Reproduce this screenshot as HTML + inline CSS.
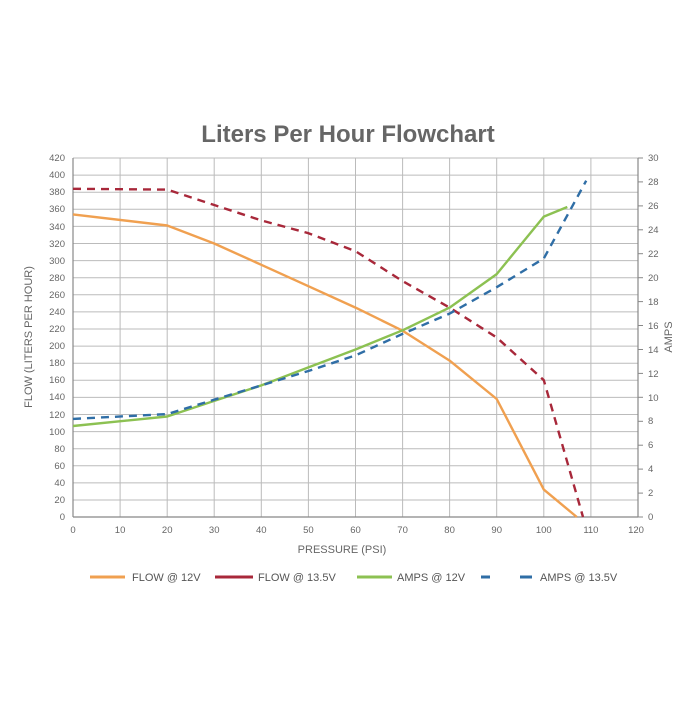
<!DOCTYPE html>
<html><head><meta charset="utf-8"><style>html,body{margin:0;padding:0;background:#fff}</style></head>
<body>
<svg width="700" height="700" xmlns="http://www.w3.org/2000/svg" font-family="Liberation Sans, sans-serif">
<rect width="700" height="700" fill="#fff"/>
<text x="348" y="142" text-anchor="middle" font-size="24" font-weight="bold" fill="#666">Liters Per Hour Flowchart</text>
<g stroke="#bbb" stroke-width="1">
<line x1="73" y1="158" x2="638" y2="158"/><line x1="73" y1="175.1" x2="638" y2="175.1"/><line x1="73" y1="192.2" x2="638" y2="192.2"/><line x1="73" y1="209.3" x2="638" y2="209.3"/><line x1="73" y1="226.4" x2="638" y2="226.4"/><line x1="73" y1="243.5" x2="638" y2="243.5"/><line x1="73" y1="260.6" x2="638" y2="260.6"/><line x1="73" y1="277.7" x2="638" y2="277.7"/><line x1="73" y1="294.8" x2="638" y2="294.8"/><line x1="73" y1="311.9" x2="638" y2="311.9"/><line x1="73" y1="329" x2="638" y2="329"/><line x1="73" y1="346.1" x2="638" y2="346.1"/><line x1="73" y1="363.2" x2="638" y2="363.2"/><line x1="73" y1="380.3" x2="638" y2="380.3"/><line x1="73" y1="397.4" x2="638" y2="397.4"/><line x1="73" y1="414.5" x2="638" y2="414.5"/><line x1="73" y1="431.6" x2="638" y2="431.6"/><line x1="73" y1="448.7" x2="638" y2="448.7"/><line x1="73" y1="465.8" x2="638" y2="465.8"/><line x1="73" y1="482.9" x2="638" y2="482.9"/><line x1="73" y1="500" x2="638" y2="500"/>
<line x1="120.1" y1="158" x2="120.1" y2="517"/><line x1="167.2" y1="158" x2="167.2" y2="517"/><line x1="214.2" y1="158" x2="214.2" y2="517"/><line x1="261.3" y1="158" x2="261.3" y2="517"/><line x1="308.4" y1="158" x2="308.4" y2="517"/><line x1="355.5" y1="158" x2="355.5" y2="517"/><line x1="402.6" y1="158" x2="402.6" y2="517"/><line x1="449.6" y1="158" x2="449.6" y2="517"/><line x1="496.7" y1="158" x2="496.7" y2="517"/><line x1="543.8" y1="158" x2="543.8" y2="517"/><line x1="590.9" y1="158" x2="590.9" y2="517"/>
</g>
<g stroke="#888" stroke-width="1.2">
<line x1="73" y1="158" x2="73" y2="517"/><line x1="638" y1="158" x2="638" y2="517"/><line x1="73" y1="517" x2="638" y2="517"/>
</g>
<g stroke="#888" stroke-width="1">
<line x1="638" y1="158" x2="643" y2="158"/><line x1="638" y1="181.9" x2="643" y2="181.9"/><line x1="638" y1="205.9" x2="643" y2="205.9"/><line x1="638" y1="229.8" x2="643" y2="229.8"/><line x1="638" y1="253.7" x2="643" y2="253.7"/><line x1="638" y1="277.7" x2="643" y2="277.7"/><line x1="638" y1="301.6" x2="643" y2="301.6"/><line x1="638" y1="325.5" x2="643" y2="325.5"/><line x1="638" y1="349.5" x2="643" y2="349.5"/><line x1="638" y1="373.4" x2="643" y2="373.4"/><line x1="638" y1="397.3" x2="643" y2="397.3"/><line x1="638" y1="421.3" x2="643" y2="421.3"/><line x1="638" y1="445.2" x2="643" y2="445.2"/><line x1="638" y1="469.1" x2="643" y2="469.1"/><line x1="638" y1="493.1" x2="643" y2="493.1"/><line x1="638" y1="517" x2="643" y2="517"/>
</g>
<g font-size="9.5" fill="#666" text-anchor="end">
<text x="65" y="161">420</text><text x="65" y="178">400</text><text x="65" y="195">380</text><text x="65" y="212">360</text><text x="65" y="230">340</text><text x="65" y="247">320</text><text x="65" y="264">300</text><text x="65" y="281">280</text><text x="65" y="298">260</text><text x="65" y="315">240</text><text x="65" y="332">220</text><text x="65" y="349">200</text><text x="65" y="366">180</text><text x="65" y="383">160</text><text x="65" y="400">140</text><text x="65" y="418">120</text><text x="65" y="435">100</text><text x="65" y="452">80</text><text x="65" y="469">60</text><text x="65" y="486">40</text><text x="65" y="503">20</text><text x="65" y="520">0</text>
</g>
<g font-size="9.5" fill="#666">
<text x="648" y="161">30</text><text x="648" y="185">28</text><text x="648" y="209">26</text><text x="648" y="233">24</text><text x="648" y="257">22</text><text x="648" y="281">20</text><text x="648" y="305">18</text><text x="648" y="329">16</text><text x="648" y="353">14</text><text x="648" y="377">12</text><text x="648" y="401">10</text><text x="648" y="424">8</text><text x="648" y="448">6</text><text x="648" y="472">4</text><text x="648" y="496">2</text><text x="648" y="520">0</text>
</g>
<g font-size="9.5" fill="#666" text-anchor="middle">
<text x="73" y="533">0</text><text x="120.1" y="533">10</text><text x="167.2" y="533">20</text><text x="214.2" y="533">30</text><text x="261.3" y="533">40</text><text x="308.4" y="533">50</text><text x="355.5" y="533">60</text><text x="402.6" y="533">70</text><text x="449.6" y="533">80</text><text x="496.7" y="533">90</text><text x="543.8" y="533">100</text><text x="590.9" y="533">110</text><text x="636" y="533">120</text>
</g>
<text x="342" y="553" text-anchor="middle" font-size="11" fill="#666">PRESSURE (PSI)</text>
<text transform="translate(32,337) rotate(-90)" text-anchor="middle" font-size="11" fill="#666">FLOW (LITERS PER HOUR)</text>
<text transform="translate(672,337) rotate(-90)" text-anchor="middle" font-size="11" fill="#666">AMPS</text>
<g fill="none" stroke-width="2.4" stroke-linejoin="round">
<polyline stroke="#f0a050" points="73,214.4 167.2,225.5 214.2,243.5 261.3,264.8 308.4,286.2 355.5,307.6 402.6,330.7 449.6,360.6 496.7,399 543.8,489.6 576.8,517"/>
<polyline stroke="#a8283a" stroke-dasharray="8,6" points="73,188.8 167.2,189.6 214.2,205 261.3,220.4 308.4,233.2 355.5,251.2 402.6,281.1 449.6,307.6 496.7,337.5 543.8,380.2 583,517"/>
<polyline stroke="#8cc152" points="73,426 167.2,416.5 214.2,400.9 261.3,385.4 308.4,367.4 355.5,349.5 402.6,330.3 449.6,307.6 496.7,274.1 543.8,216.6 567.3,207"/>
<polyline stroke="#2f6ea6" stroke-dasharray="8,6" points="73,418.9 167.2,414.1 214.2,399.7 261.3,385.4 308.4,371 355.5,355.4 402.6,333.9 449.6,313.6 496.7,287.2 543.8,258.5 586.2,180.7"/>
</g>
<g stroke-width="3">
<line x1="90" y1="577" x2="125" y2="577" stroke="#f0a050"/>
<line x1="215" y1="577" x2="253" y2="577" stroke="#a8283a"/>
<line x1="357" y1="577" x2="392" y2="577" stroke="#8cc152"/>
<line x1="481" y1="577" x2="490" y2="577" stroke="#2f6ea6"/>
<line x1="520" y1="577" x2="532" y2="577" stroke="#2f6ea6"/>
</g>
<g font-size="11" fill="#555">
<text x="132" y="581">FLOW @ 12V</text><text x="258" y="581">FLOW @ 13.5V</text><text x="397" y="581">AMPS @ 12V</text><text x="540" y="581">AMPS @ 13.5V</text>
</g>
</svg>
</body></html>
